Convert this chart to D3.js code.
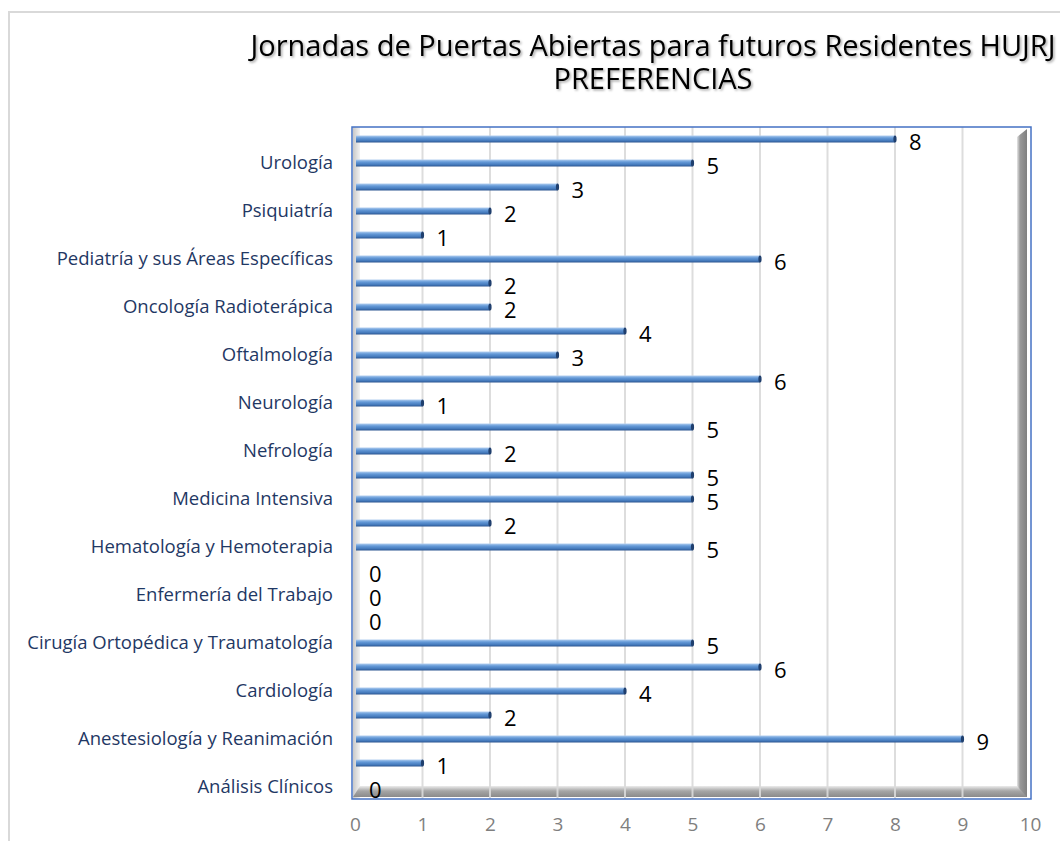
<!DOCTYPE html>
<html>
<head>
<meta charset="utf-8">
<script src="https://cdn.jsdelivr.net/npm/d3@7"></script>
<style>
  body { margin: 0; background: #fff; }
  svg { display: block; }
</style>
</head>
<body>
<script>
// categories listed top to bottom, as in the picture (only every other one is labelled)
var categories = [
  "Otras especialidades", "Urología", "Radiodiagnóstico", "Psiquiatría",
  "Psicología Clínica", "Pediatría y sus Áreas Específicas", "Otorrinolaringología",
  "Oncología Radioterápica", "Oncología Médica", "Oftalmología",
  "Obstetricia y Ginecología", "Neurología", "Neumología", "Nefrología",
  "Medicina Interna", "Medicina Intensiva", "Medicina Familiar y Comunitaria",
  "Hematología y Hemoterapia", "Farmacia Hospitalaria", "Enfermería del Trabajo",
  "Dermatología", "Cirugía Ortopédica y Traumatología",
  "Cirugía General y del Aparato Digestivo", "Cardiología", "Aparato Digestivo",
  "Anestesiología y Reanimación", "Anatomía Patológica", "Análisis Clínicos"
];
var values = [8, 5, 3, 2, 1, 6, 2, 2, 4, 3, 6, 1, 5, 2, 5, 5, 2, 5, 0, 0, 0, 5, 6, 4, 2, 9, 1, 0];
var xTicks = [0, 1, 2, 3, 4, 5, 6, 7, 8, 9, 10];
var titleLines = ["Jornadas de Puertas Abiertas para futuros Residentes HUJRJ", "PREFERENCIAS"];

var W = 1060, H = 841;
var plot = { left: 355, right: 1030, top: 127, bottom: 799 };

var svg = d3.select("body").append("svg")
    .attr("width", W)
    .attr("height", H);

var defs = svg.append("defs");

// bar gradient (cylinder look)
var bg = defs.append("linearGradient").attr("id", "barGrad")
    .attr("x1", 0).attr("y1", 0).attr("x2", 0).attr("y2", 1);
bg.append("stop").attr("offset", "0%").attr("stop-color", "#b3cff0");
bg.append("stop").attr("offset", "35%").attr("stop-color", "#659ad8");
bg.append("stop").attr("offset", "75%").attr("stop-color", "#4479bb");
bg.append("stop").attr("offset", "100%").attr("stop-color", "#2b548f");

// wall/floor gradients
var lw = defs.append("linearGradient").attr("id", "leftWall")
    .attr("x1", 0).attr("y1", 0).attr("x2", 1).attr("y2", 0);
lw.append("stop").attr("offset", "0%").attr("stop-color", "#c8c8c8");
lw.append("stop").attr("offset", "100%").attr("stop-color", "#f2f2f2");

var rw = defs.append("linearGradient").attr("id", "rightWall")
    .attr("x1", 0).attr("y1", 0).attr("x2", 1).attr("y2", 0);
rw.append("stop").attr("offset", "0%").attr("stop-color", "#e6e6e6");
rw.append("stop").attr("offset", "30%").attr("stop-color", "#9a9a9a");
rw.append("stop").attr("offset", "100%").attr("stop-color", "#808080");

var fl = defs.append("linearGradient").attr("id", "floor")
    .attr("x1", 0).attr("y1", 0).attr("x2", 0).attr("y2", 1);
fl.append("stop").attr("offset", "0%").attr("stop-color", "#ececec");
fl.append("stop").attr("offset", "45%").attr("stop-color", "#a6a6a6");
fl.append("stop").attr("offset", "100%").attr("stop-color", "#8a8a8a");

// soft shadow for the title
var sh = defs.append("filter").attr("id", "shadow")
    .attr("x", "-5%").attr("y", "-30%").attr("width", "110%").attr("height", "160%");
sh.append("feDropShadow").attr("dx", 1.5).attr("dy", 1.5)
    .attr("stdDeviation", 1.2).attr("flood-color", "#000").attr("flood-opacity", 0.35);

// outer chart frame (only left and top edges show)
svg.append("path")
    .attr("d", "M9," + H + " V12 H" + W)
    .attr("fill", "none")
    .attr("stroke", "#d9d9d9")
    .attr("stroke-width", 2);

// scales
var x = d3.scaleLinear().domain([0, 10]).range([plot.left, plot.right]);
var y = d3.scaleBand().domain(categories).range([plot.top, plot.bottom]).padding(0);

// walls and floor
var g = svg.append("g");
g.append("rect")
    .attr("x", plot.left - 2).attr("y", plot.top)
    .attr("width", 7).attr("height", plot.bottom - plot.top)
    .attr("fill", "url(#leftWall)");
g.append("path")
    .attr("d", "M" + (x(10) - 13) + "," + (plot.bottom - 2) +
        " V" + (plot.top + 10) + " L" + (x(10) - 3) + "," + (plot.top + 2) +
        " V" + (plot.bottom - 2) + " Z")
    .attr("fill", "url(#rightWall)");
g.append("path")
    .attr("d", "M" + (plot.left + 5) + "," + (plot.bottom - 13) +
        " H" + (x(10) - 13) + " L" + (x(10) - 3) + "," + (plot.bottom - 2) +
        " H" + (plot.left - 2) + " Z")
    .attr("fill", "url(#floor)");

// vertical gridlines
g.selectAll(".grid")
    .data(xTicks.slice(1, -1))
    .enter().append("line")
    .attr("class", "grid")
    .attr("x1", function(d) { return x(d); })
    .attr("x2", function(d) { return x(d); })
    .attr("y1", plot.top)
    .attr("y2", plot.bottom)
    .attr("stroke", "#d9d9d9")
    .attr("stroke-opacity", 0.9)
    .attr("stroke-width", 2);

// plot area border
svg.append("rect")
    .attr("x", plot.left - 3).attr("y", plot.top)
    .attr("width", plot.right - plot.left + 4)
    .attr("height", plot.bottom - plot.top)
    .attr("fill", "none")
    .attr("stroke", "#4472c4")
    .attr("stroke-width", 1.5);

// bars, end caps and value labels
var barH = 7;
values.forEach(function(v, i) {
    var cy = y(categories[i]) + y.bandwidth() / 2;
    if (v > 0) {
        svg.append("rect")
            .attr("x", x(0) + 1)
            .attr("y", cy - barH / 2)
            .attr("width", x(v) - x(0) - 1)
            .attr("height", barH)
            .attr("fill", "url(#barGrad)");
        svg.append("ellipse")
            .attr("cx", x(v))
            .attr("cy", cy)
            .attr("rx", 1.6)
            .attr("ry", barH / 2)
            .attr("fill", "#1f3f6e");
    }
    svg.append("text")
        .attr("x", x(v) + 14)
        .attr("y", cy + 11)
        .attr("font-family", "'Open Sans', sans-serif")
        .attr("font-size", 22)
        .attr("fill", "#000")
        .text(v);
});

// category axis (every other label shown)
var yAxis = svg.append("g")
    .attr("transform", "translate(" + (plot.left - 22) + ",0)")
    .call(d3.axisLeft(y).tickSize(0).tickPadding(0)
        .tickFormat(function(d, i) { return i % 2 === 1 ? d : ""; }));
yAxis.select(".domain").remove();
yAxis.selectAll("text")
    .attr("font-family", "'Open Sans', sans-serif")
    .attr("font-size", 18.5)
    .attr("fill", "#1f3864")
    .attr("dy", "0.35em");

// value axis
var xAxis = svg.append("g")
    .attr("transform", "translate(0," + (plot.bottom + 15) + ")")
    .call(d3.axisBottom(x).tickValues(xTicks).tickSize(0).tickPadding(0));
xAxis.select(".domain").remove();
xAxis.selectAll("text")
    .attr("font-family", "'Open Sans', sans-serif")
    .attr("font-size", 19)
    .attr("fill", "#7f7f7f")
    .attr("dy", "0.9em");

// title
svg.append("g")
    .attr("filter", "url(#shadow)")
    .selectAll("text")
    .data(titleLines)
    .enter().append("text")
    .attr("x", 653)
    .attr("y", function(d, i) { return 56 + i * 33; })
    .attr("text-anchor", "middle")
    .attr("font-family", "'Open Sans', sans-serif")
    .attr("font-size", 29)
    .attr("fill", "#000")
    .text(function(d) { return d; });
</script>
</body>
</html>
